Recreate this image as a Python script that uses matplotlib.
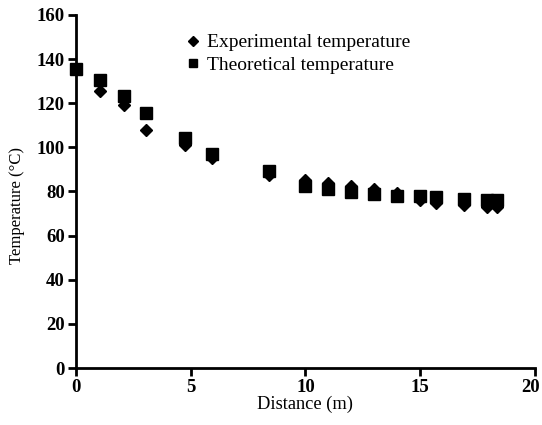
import matplotlib.pyplot as plt
import matplotlib.transforms as mtransforms

plt.rcParams['font.family'] = ['Liberation Serif', 'DejaVu Serif']

distance = [0, 1.05, 2.1, 3.05, 4.75, 5.95, 8.4, 10, 11, 12, 13, 14, 15, 15.7, 16.9, 17.9, 18.35]
experimental = [135.5, 125.3, 119.2, 107.9, 101, 95, 87.5, 85.2, 83.9, 82.3, 81.1, 79.1, 76.2, 74.8, 73.9, 72.8, 72.8]
theoretical = [135.5, 130.5, 123.4, 115.4, 104.3, 97, 89.4, 82.5, 81.1, 79.8, 78.9, 78, 78, 77.5, 76.6, 76.2, 76.2]

fig = plt.figure(figsize=(5.42, 4.25), dpi=100)
ax = fig.add_axes([0.140, 0.134, 0.847, 0.831])

ax.plot(distance, experimental, 'D', color='black', markersize=6.5,
        label='Experimental temperature', clip_on=False, zorder=3)
ax.plot(distance, theoretical, 's', color='black', markersize=8,
        label='Theoretical temperature', clip_on=False, zorder=3)

ax.set_xlim(0, 20)
ax.set_ylim(0, 160)
ax.set_xticks([0, 5, 10, 15, 20])
ax.set_yticks(range(0, 161, 20))

for side in ['top', 'right']:
    ax.spines[side].set_visible(False)
for side in ['left', 'bottom']:
    ax.spines[side].set_linewidth(2)
ax.tick_params(width=2, length=6, labelsize=13.5, direction='out', pad=2)
for lbl in ax.get_xticklabels() + ax.get_yticklabels():
    lbl.set_fontweight('bold')

# nudge the last x label so it stays inside the figure
last = ax.get_xticklabels()[-1]
last.set_transform(last.get_transform() +
                   mtransforms.ScaledTranslation(-4 / 100, 0, fig.dpi_scale_trans))

ax.set_xlabel('Distance (m)', fontsize=13.2, labelpad=0)
ax.set_ylabel('Temperature (°C)', fontsize=12)
ax.yaxis.set_label_coords(-0.11, 0.46)

ax.legend(loc='upper left', bbox_to_anchor=(0.205, 0.985), frameon=False,
          fontsize=14, handletextpad=0.2, labelspacing=0.25, borderpad=0.2,
          handlelength=1.0, markerscale=0.75)

fig.savefig('out.png', dpi=100)
